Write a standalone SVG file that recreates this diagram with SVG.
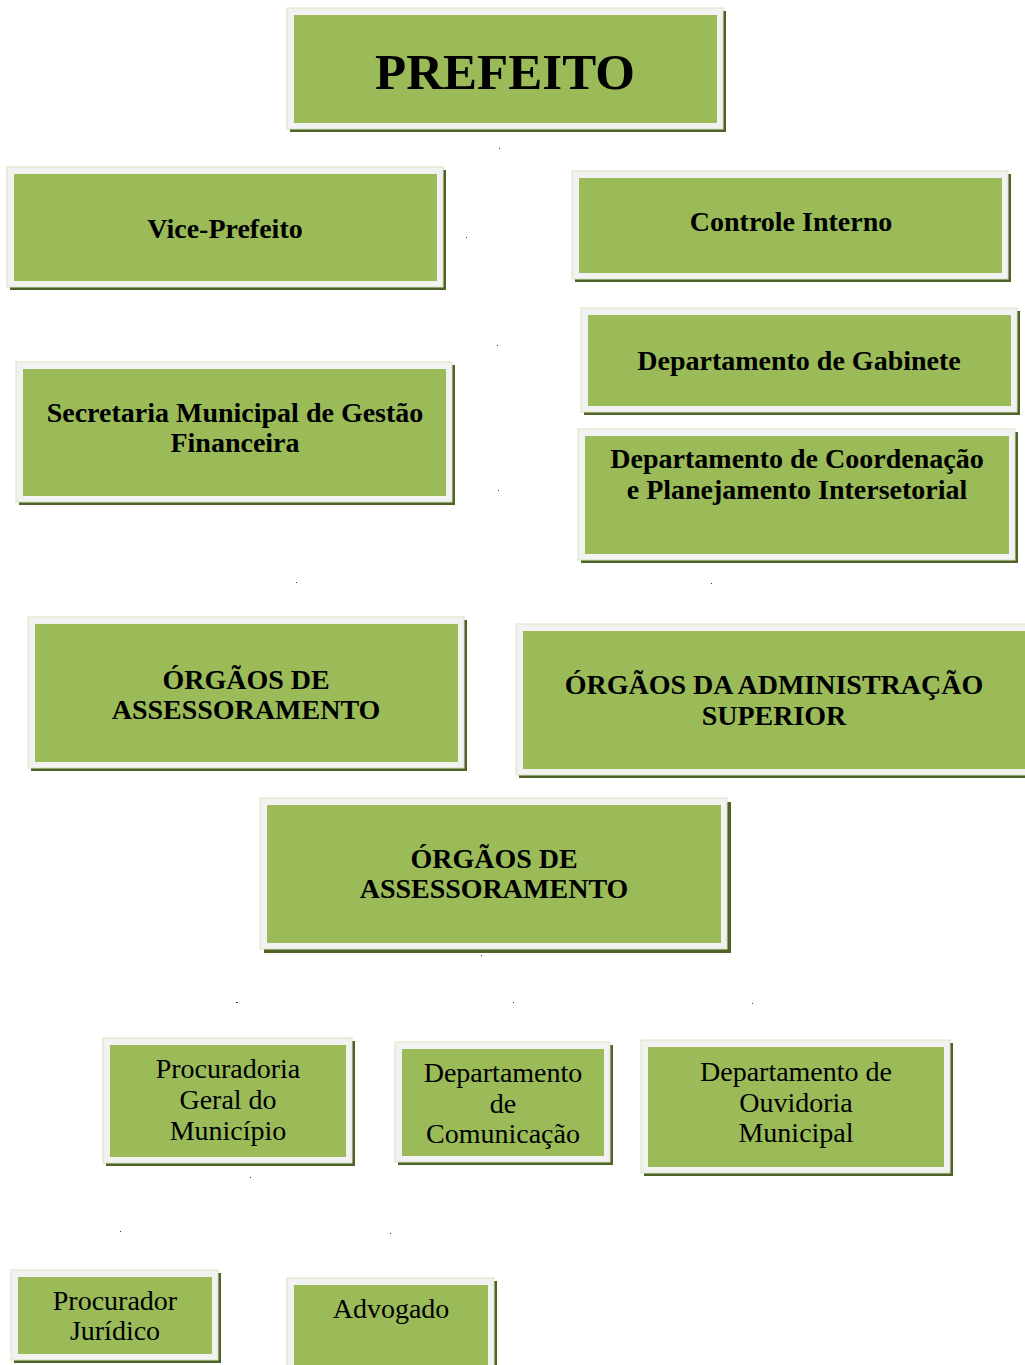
<svg xmlns="http://www.w3.org/2000/svg" width="1025" height="1365" viewBox="0 0 1025 1365">
<style>
.sh{fill:#4F6228}
.fr{fill:#F2F2F2;stroke:#D7E4BD;stroke-width:1}
.bx{fill:#9BBB59}
.b{font-family:"Liberation Serif","Times New Roman",serif;font-weight:bold;font-size:28px;fill:#000;text-anchor:middle}
.r{font-family:"Liberation Serif","Times New Roman",serif;font-size:28px;fill:#000;text-anchor:middle}
.dot{fill:#333}
</style>
<rect width="1025" height="1365" fill="#fff"/>
<g id="connectors">
<rect class="dot" x="499" y="148" width="1" height="1"/>
<rect class="dot" x="466" y="237" width="1" height="1"/>
<rect class="dot" x="497" y="345" width="1" height="1"/>
<rect class="dot" x="498" y="490" width="1" height="1"/>
<rect class="dot" x="296" y="582" width="1" height="1"/>
<rect class="dot" x="711" y="583" width="1" height="1"/>
<rect class="dot" x="481" y="955" width="1" height="1"/>
<rect class="dot" x="236" y="1002" width="2" height="1"/>
<rect class="dot" x="513" y="1002" width="1" height="1"/>
<rect class="dot" x="752" y="1003" width="1" height="1"/>
<rect class="dot" x="250" y="1177" width="1" height="1"/>
<rect class="dot" x="120" y="1231" width="1" height="1"/>
<rect class="dot" x="390" y="1233" width="1" height="1"/>
</g>
<g id="prefeito">
<rect class="sh" x="290" y="11" width="436" height="121"/>
<rect class="fr" x="287" y="8" width="436" height="121"/>
<rect class="bx" x="294" y="15" width="423" height="108"/>
<text class="b" x="505" y="89" style="font-size:51px">PREFEITO</text>
</g>
<g id="vice-prefeito">
<rect class="sh" x="10" y="170" width="436" height="120"/>
<rect class="fr" x="7" y="167" width="436" height="120"/>
<rect class="bx" x="14" y="174" width="423" height="107"/>
<text class="b" x="225" y="238">Vice-Prefeito</text>
</g>
<g id="controle-interno">
<rect class="sh" x="575" y="174" width="436" height="108"/>
<rect class="fr" x="572" y="171" width="436" height="108"/>
<rect class="bx" x="579" y="178" width="423" height="95"/>
<text class="b" x="791" y="231">Controle Interno</text>
</g>
<g id="gabinete">
<rect class="sh" x="584" y="311" width="436" height="104"/>
<rect class="fr" x="581" y="308" width="436" height="104"/>
<rect class="bx" x="588" y="315" width="423" height="91"/>
<text class="b" x="799" y="370">Departamento de Gabinete</text>
</g>
<g id="secretaria">
<rect class="sh" x="19" y="365" width="436" height="140"/>
<rect class="fr" x="16" y="362" width="436" height="140"/>
<rect class="bx" x="23" y="369" width="423" height="127"/>
<text class="b" x="235" y="422">Secretaria Municipal de Gestão</text>
<text class="b" x="235" y="452">Financeira</text>
</g>
<g id="coordenacao">
<rect class="sh" x="581" y="432" width="437" height="131"/>
<rect class="fr" x="578" y="429" width="437" height="131"/>
<rect class="bx" x="585" y="436" width="424" height="118"/>
<text class="b" x="797" y="468">Departamento de Coordenação</text>
<text class="b" x="797" y="499">e Planejamento Intersetorial</text>
</g>
<g id="orgaos-assessoramento-1">
<rect class="sh" x="31" y="620" width="436" height="151"/>
<rect class="fr" x="28" y="617" width="436" height="151"/>
<rect class="bx" x="35" y="624" width="423" height="138"/>
<text class="b" x="246" y="689">ÓRGÃOS DE</text>
<text class="b" x="246" y="719">ASSESSORAMENTO</text>
</g>
<g id="orgaos-administracao-superior">
<rect class="sh" x="519" y="627" width="520" height="151"/>
<rect class="fr" x="516" y="624" width="520" height="151"/>
<rect class="bx" x="523" y="631" width="510" height="138"/>
<text class="b" x="774" y="694">ÓRGÃOS DA ADMINISTRAÇÃO</text>
<text class="b" x="774" y="725">SUPERIOR</text>
</g>
<g id="orgaos-assessoramento-2">
<rect class="sh" x="264" y="802" width="467" height="151"/>
<rect class="fr" x="260" y="798" width="467" height="151"/>
<rect class="bx" x="267" y="805" width="454" height="138"/>
<text class="b" x="494" y="868">ÓRGÃOS DE</text>
<text class="b" x="494" y="898">ASSESSORAMENTO</text>
</g>
<g id="procuradoria">
<rect class="sh" x="106" y="1041" width="249" height="125"/>
<rect class="fr" x="103" y="1038" width="249" height="125"/>
<rect class="bx" x="110" y="1045" width="236" height="112"/>
<text class="r" x="228" y="1078">Procuradoria</text>
<text class="r" x="228" y="1109">Geral do</text>
<text class="r" x="228" y="1140">Município</text>
</g>
<g id="comunicacao">
<rect class="sh" x="398" y="1045" width="215" height="120"/>
<rect class="fr" x="395" y="1042" width="215" height="120"/>
<rect class="bx" x="402" y="1049" width="202" height="107"/>
<text class="r" x="503" y="1082">Departamento</text>
<text class="r" x="503" y="1113">de</text>
<text class="r" x="503" y="1143">Comunicação</text>
</g>
<g id="ouvidoria">
<rect class="sh" x="644" y="1043" width="309" height="133"/>
<rect class="fr" x="641" y="1040" width="309" height="133"/>
<rect class="bx" x="648" y="1047" width="296" height="120"/>
<text class="r" x="796" y="1081">Departamento de</text>
<text class="r" x="796" y="1112">Ouvidoria</text>
<text class="r" x="796" y="1142">Municipal</text>
</g>
<g id="procurador">
<rect class="sh" x="14" y="1273" width="207" height="90"/>
<rect class="fr" x="11" y="1270" width="207" height="90"/>
<rect class="bx" x="18" y="1277" width="194" height="77"/>
<text class="r" x="115" y="1310">Procurador</text>
<text class="r" x="115" y="1340">Jurídico</text>
</g>
<g id="advogado">
<rect class="sh" x="290" y="1281" width="207" height="100"/>
<rect class="fr" x="287" y="1278" width="207" height="100"/>
<rect class="bx" x="294" y="1285" width="194" height="90"/>
<text class="r" x="391" y="1318">Advogado</text>
</g>
</svg>
